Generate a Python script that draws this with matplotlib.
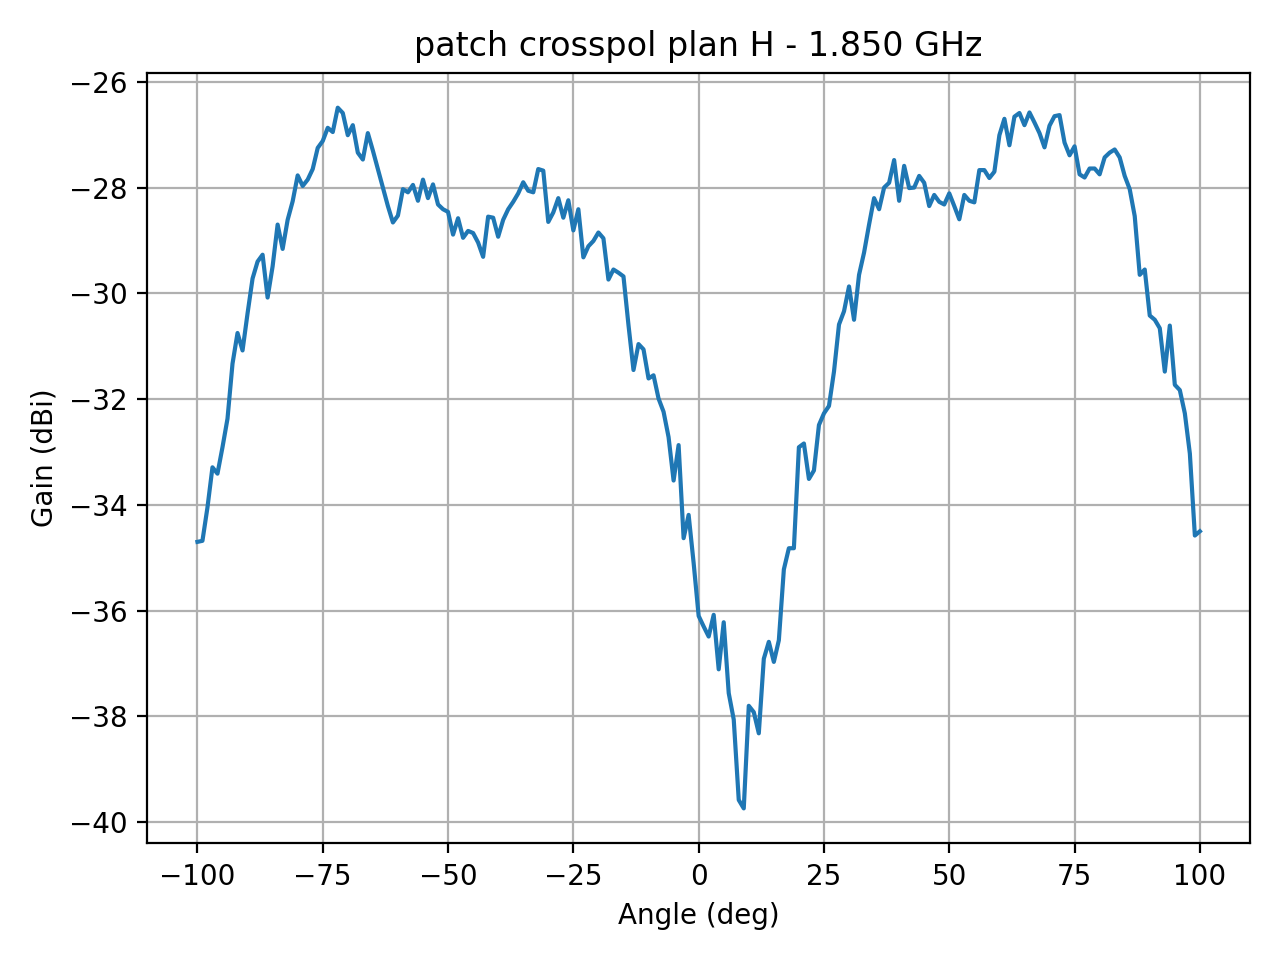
import numpy as np
import matplotlib
matplotlib.use("Agg")
import matplotlib.pyplot as plt

# Measured cross-polar gain, H plane, 1 deg steps from -100 to 100
angle_start = -100
angle_stop = 100
gain_dbi = [
    -34.70, -34.68, -34.05, -33.29, -33.41, -32.91, -32.37, -31.33, -30.75, -31.08,  # -100 .. -91
    -30.38, -29.72, -29.40, -29.27, -30.08, -29.49, -28.70, -29.16, -28.61, -28.26,  # -90 .. -81
    -27.77, -27.97, -27.85, -27.65, -27.25, -27.12, -26.87, -26.95, -26.49, -26.59,  # -80 .. -71
    -27.01, -26.82, -27.34, -27.47, -26.97, -27.30, -27.65, -28.00, -28.35, -28.66,  # -70 .. -61
    -28.53, -28.03, -28.09, -27.95, -28.25, -27.85, -28.20, -27.94, -28.32, -28.41,  # -60 .. -51
    -28.46, -28.89, -28.58, -28.95, -28.82, -28.86, -29.04, -29.31, -28.55, -28.57,  # -50 .. -41
    -28.93, -28.61, -28.41, -28.27, -28.11, -27.90, -28.06, -28.09, -27.65, -27.68,  # -40 .. -31
    -28.65, -28.47, -28.20, -28.57, -28.24, -28.81, -28.41, -29.32, -29.11, -29.01,  # -30 .. -21
    -28.85, -28.96, -29.74, -29.55, -29.61, -29.68, -30.60, -31.45, -30.96, -31.06,  # -20 .. -11
    -31.61, -31.55, -31.99, -32.24, -32.72, -33.54, -32.87, -34.63, -34.19, -35.10,  # -10 .. -1
    -36.10, -36.30, -36.49, -36.08, -37.11, -36.22, -37.56, -38.06, -39.58, -39.74,  # 0 .. 9
    -37.80, -37.92, -38.32, -36.91, -36.59, -36.97, -36.56, -35.22, -34.82, -34.82,  # 10 .. 19
    -32.91, -32.84, -33.51, -33.35, -32.49, -32.27, -32.13, -31.48, -30.59, -30.34,  # 20 .. 29
    -29.87, -30.50, -29.65, -29.23, -28.70, -28.20, -28.41, -28.00, -27.91, -27.48,  # 30 .. 39
    -28.25, -27.59, -28.01, -28.00, -27.78, -27.91, -28.35, -28.14, -28.27, -28.32,  # 40 .. 49
    -28.11, -28.35, -28.60, -28.14, -28.25, -28.28, -27.67, -27.67, -27.82, -27.70,  # 50 .. 59
    -27.01, -26.70, -27.20, -26.66, -26.59, -26.82, -26.58, -26.77, -26.97, -27.24,  # 60 .. 69
    -26.83, -26.65, -26.63, -27.15, -27.39, -27.22, -27.75, -27.81, -27.64, -27.64,  # 70 .. 79
    -27.75, -27.43, -27.34, -27.28, -27.43, -27.78, -28.03, -28.54, -29.65, -29.55,  # 80 .. 89
    -30.42, -30.50, -30.66, -31.48, -30.61, -31.73, -31.83, -32.27, -33.03, -34.58,  # 90 .. 99
    -34.50,                                                                          # 100
]

angles = np.arange(angle_start, angle_stop + 1)

fig, ax = plt.subplots(figsize=(6.4, 4.8), dpi=200)
ax.plot(angles, gain_dbi)
ax.set_title("patch crosspol plan H - 1.850 GHz")
ax.set_xlabel("Angle (deg)")
ax.set_ylabel("Gain (dBi)")
ax.grid(True)

fig.tight_layout()
fig.savefig("out.png")
